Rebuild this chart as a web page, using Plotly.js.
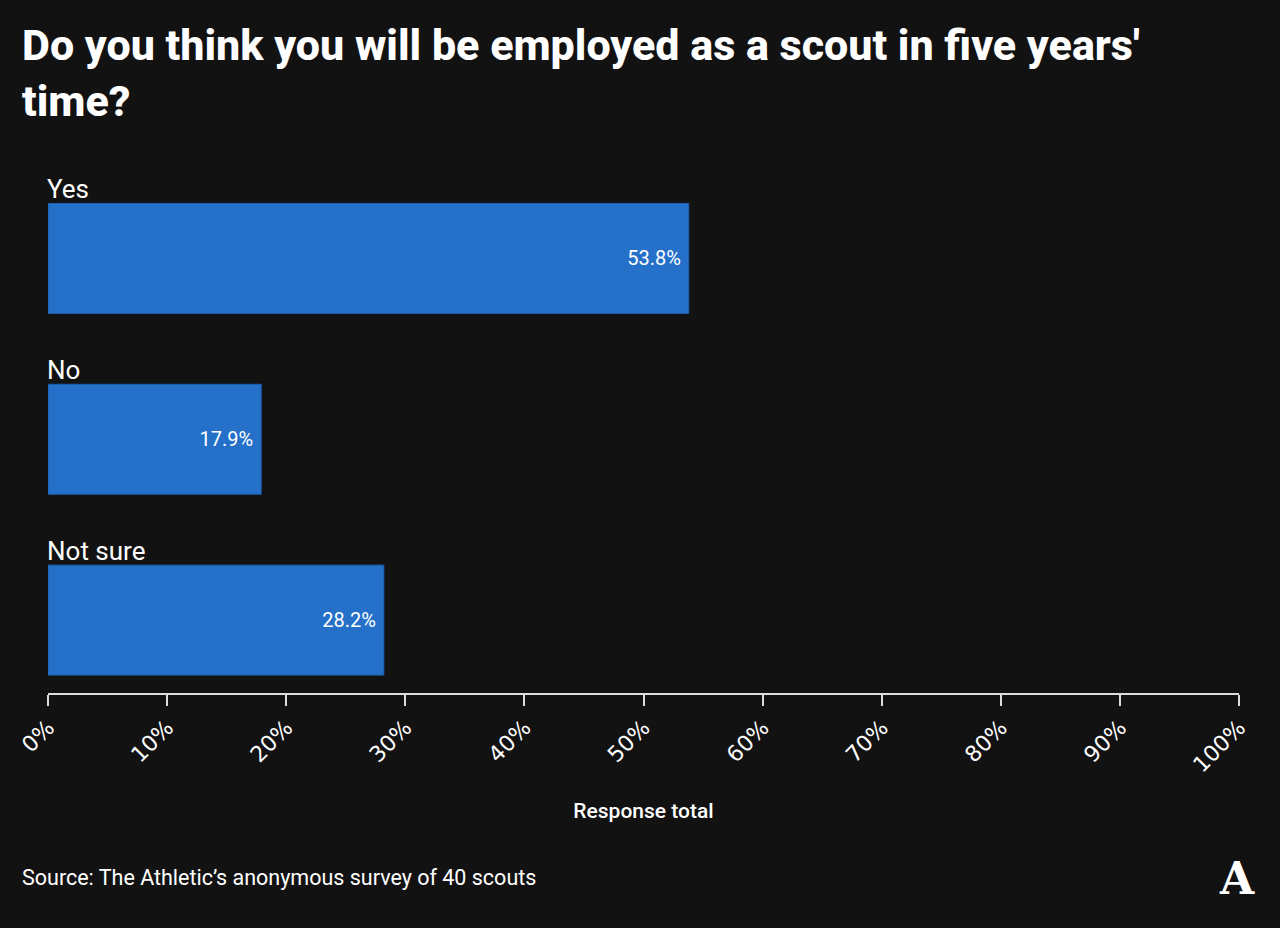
<!DOCTYPE html>
<html>
<head>
<meta charset="utf-8">
<script src="https://cdn.plot.ly/plotly-3.0.1.min.js"></script>
<style>
  html, body { margin: 0; padding: 0; background: #121212; }
  #chart { width: 1280px; height: 928px; }
</style>
</head>
<body>
<div id="chart"></div>
<script>
var answers = ['Yes', 'No', 'Not sure'];
var shares = [53.8, 17.9, 28.2];
var tickValues = [0, 10, 20, 30, 40, 50, 60, 70, 80, 90, 100];
var tickLabels = tickValues.map(function(v) { return v + '%'; });
var titleText = 'Do you think you will be employed as a scout in five years\'<br>time?';

var W = 1280, H = 928;
var M = {l: 48, r: 41, t: 168, b: 235};

// pixel -> paper helpers for the free-floating texts
function px(x) { return (x - M.l) / (W - M.l - M.r); }
function py(y) { return (H - M.b - y) / (H - M.t - M.b); }

var bars = {
  type: 'bar',
  orientation: 'h',
  x: shares,
  y: answers,
  text: shares.map(function(v) { return v.toFixed(1) + '%\u00a0'; }),
  textposition: 'inside',
  insidetextanchor: 'end',
  textfont: {family: 'Roboto, sans-serif', size: 20, color: '#ffffff'},
  marker: {color: '#2570c8', line: {color: '#1d5fae', width: 1}},
  hoverinfo: 'none'
};

var notes = answers.map(function(a) {
  return {
    x: 0, xref: 'x', y: a, yref: 'y',
    text: a, showarrow: false,
    xanchor: 'left', yanchor: 'bottom', yshift: 52, xshift: -3,
    font: {family: 'Roboto, sans-serif', size: 26, color: '#ffffff'}
  };
});

notes.push({
  x: px(20), xref: 'paper', y: py(73), yref: 'paper',
  text: titleText, showarrow: false, xanchor: 'left', yanchor: 'middle', align: 'left',
  font: {family: 'Roboto, sans-serif', size: 43, color: '#ffffff', weight: 800}
});

notes.push({
  x: px(20), xref: 'paper', y: py(877), yref: 'paper',
  text: 'Source: The Athletic’s anonymous survey of 40 scouts',
  showarrow: false, xanchor: 'left', yanchor: 'middle',
  font: {family: 'Roboto, sans-serif', size: 21.5, color: '#ffffff'}
});

// logo mark bottom right
notes.push({
  x: px(1237), xref: 'paper', y: py(878), yref: 'paper',
  text: '<b>A</b>', showarrow: false, xanchor: 'center', yanchor: 'middle',
  font: {family: 'DejaVu Serif, serif', size: 44, color: '#ffffff'}
});

var layout = {
  width: W,
  height: H,
  paper_bgcolor: '#121212',
  plot_bgcolor: '#121212',
  margin: M,
  showlegend: false,
  bargap: 0.392,
  xaxis: {
    range: [0, 100],
    tickvals: tickValues,
    ticktext: tickLabels,
    tickangle: -45,
    ticks: 'outside',
    ticklen: 11,
    tickwidth: 2,
    tickcolor: '#dddddd',
    showline: true,
    linecolor: '#dddddd',
    linewidth: 2,
    showgrid: false,
    zeroline: false,
    tickfont: {family: 'DejaVu Sans, sans-serif', size: 22, color: '#ffffff'},
    title: {
      text: 'Response total',
      standoff: 27,
      font: {family: 'Roboto, sans-serif', size: 21, color: '#ffffff', weight: 500}
    }
  },
  yaxis: {
    type: 'category',
    range: [2.403, -0.5],
    showticklabels: false,
    showgrid: false,
    zeroline: false,
    showline: false,
    ticks: ''
  },
  annotations: notes
};

Plotly.newPlot('chart', [bars], layout, {displayModeBar: false, staticPlot: true});
</script>
</body>
</html>
